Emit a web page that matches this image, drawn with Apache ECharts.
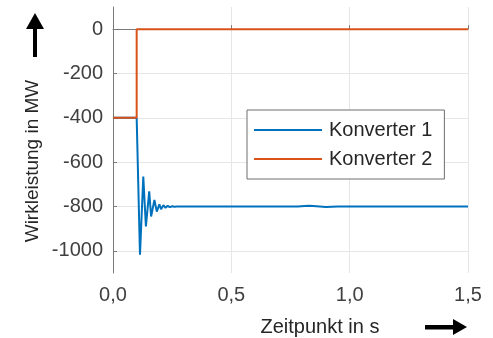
<!DOCTYPE html>
<html><head><meta charset="utf-8">
<script src="https://cdn.jsdelivr.net/npm/echarts@6/dist/echarts.min.js"></script>
<style>html,body{margin:0;padding:0;background:#fff}#c{width:493px;height:338px}</style>
</head><body><div id="c"></div>
<script>
const seriesNames = ['Konverter 1', 'Konverter 2'];
const timeK1 = [0, 0.1, 0.114, 0.128, 0.139, 0.153, 0.161, 0.175, 0.185, 0.196, 0.203, 0.213, 0.222, 0.231, 0.24, 0.25, 0.26, 0.27, 0.78, 0.81, 0.83, 0.86, 0.9, 0.95, 1.5];
const powerK1 = [-400, -400, -1018, -665, -890, -732, -845, -770, -823, -790, -812, -794, -806, -797, -803, -799, -801, -800, -800, -798, -797, -799, -802, -800, -800];
const timeK2 = [0, 0.1, 0.1, 1.5];
const powerK2 = [-400, -400, 0, 0];
const yTicks = [0, -200, -400, -600, -800, -1000];
const xTicks = [0, 0.5, 1.0, 1.5];
const colors = ['#0072BD', '#D95319'];

const font = 'Arial, "Liberation Sans", Helvetica, sans-serif';
const chart = echarts.init(document.getElementById('c'));
chart.setOption({
  animation: false,
  grid: {left: 113, right: 25, top: 7, bottom: 65, containLabel: false},
  xAxis: {
    type: 'value', min: 0, max: 1.5, interval: 0.5,
    axisLine: {lineStyle: {color: '#7a7a7a', width: 1}},
    axisTick: {inside: true, length: 4, lineStyle: {color: '#7a7a7a'}},
    axisLabel: {color: '#404040', fontSize: 20, fontFamily: font, margin: 12,
      formatter: v => v.toFixed(1).replace('.', ',')},
    splitLine: {show: true, lineStyle: {color: '#e6e6e6', width: 1}}
  },
  yAxis: {
    type: 'value', min: -1100, max: 100,
    axisLine: {show: true, lineStyle: {color: '#7a7a7a', width: 1}},
    axisTick: {show: true, inside: true, length: 4, lineStyle: {color: '#7a7a7a'}, customValues: yTicks},
    axisLabel: {color: '#404040', fontSize: 20, fontFamily: font, margin: 10, customValues: yTicks,
      formatter: v => String(v)},
    splitLine: {show: true, lineStyle: {color: '#e6e6e6', width: 1}}
  },
  legend: {
    orient: 'vertical', left: 247, top: 110,
    data: seriesNames,
    icon: 'rect',
    backgroundColor: '#fff', borderColor: '#6e6e6e', borderWidth: 1,
    padding: [10, 12, 10, 7], itemGap: 9, itemWidth: 68, itemHeight: 2,
    textStyle: {fontSize: 20, fontFamily: font, color: '#262626', lineHeight: 20, padding: [0, 0, 0, 2]}
  },
  series: [
    {name: seriesNames[0], type: 'line', symbol: 'none', data: timeK1.map((t, i) => [t, powerK1[i]]),
      lineStyle: {color: colors[0], width: 2}, itemStyle: {color: colors[0]}},
    {name: seriesNames[1], type: 'line', symbol: 'none', data: timeK2.map((t, i) => [t, powerK2[i]]),
      lineStyle: {color: colors[1], width: 2}, itemStyle: {color: colors[1]}}
  ],
  graphic: [
    {type: 'text', x: 33, y: 161, rotation: Math.PI / 2,
      style: {text: 'Wirkleistung in MW', fontSize: 19, fontFamily: font, fill: '#262626', align: 'center', verticalAlign: 'middle'}},
    {type: 'text', x: 320, y: 327,
      style: {text: 'Zeitpunkt in s', fontSize: 20, fontFamily: font, fill: '#262626', align: 'center', verticalAlign: 'middle'}},
    {type: 'polygon', shape: {points: [[35, 13], [44, 29], [37, 29], [37, 57], [33, 57], [33, 29], [26, 29]]}, style: {fill: '#000'}},
    {type: 'polygon', shape: {points: [[467, 327], [453, 319], [453, 325], [425, 325], [425, 329.5], [453, 329.5], [453, 335]]}, style: {fill: '#000'}}
  ]
});
</script></body></html>
